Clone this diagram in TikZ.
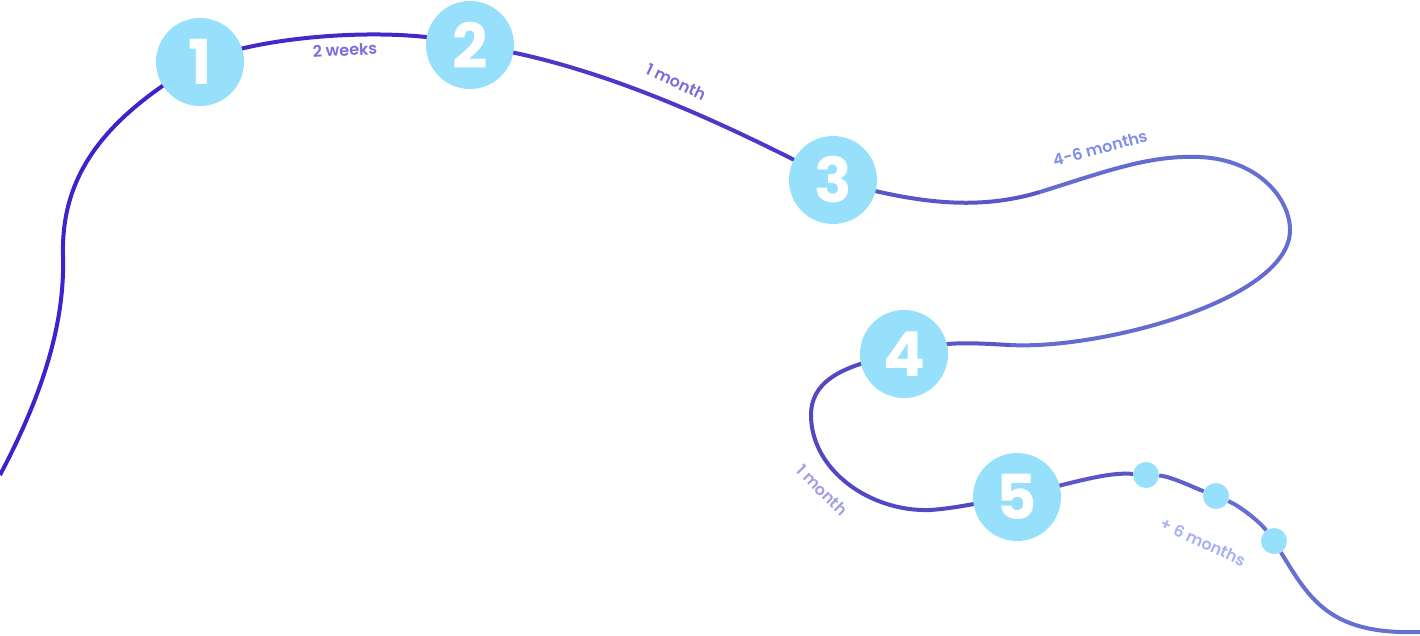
\documentclass[tikz,border=0pt]{standalone}
\usepackage{fontspec}
\setmainfont{Poppins}
\newfontfamily\labelfont{Poppins SemiBold}
\usepackage{xcolor}
\usetikzlibrary{positioning,calc}
\pgfdeclarelayer{bg}
\pgfsetlayers{bg,main}
\definecolor{stepblue}{HTML}{97E0FC}
\definecolor{roadA}{HTML}{3F22CC}
\definecolor{roadB}{HTML}{4628C9}
\definecolor{roadC}{HTML}{4D36C8}
\definecolor{roadD}{HTML}{5A55C9}
\definecolor{roadE}{HTML}{6670D0}
\definecolor{roadF}{HTML}{5347C2}
\definecolor{lblA}{HTML}{7B6CDB}
\definecolor{lblB}{HTML}{7F8EE8}
\definecolor{lblC}{HTML}{A39EE6}
\definecolor{lblD}{HTML}{A8B0F5}

\begin{document}
\begin{tikzpicture}[x = 1pt, y = -1pt,
  bigstop/.style = {circle, fill = stepblue, minimum size = 88pt, inner sep = 0pt,
    text = white, font = \fontsize{62}{62}\selectfont\bfseries},
  smallstop/.style = {circle, fill = stepblue, minimum size = 26pt, inner sep = 0pt},
  road/.style = {line width = 4pt},
  lbl/.style = {font = \labelfont\fontsize{16}{16}\selectfont}]
\useasboundingbox (0,0) rectangle (1420,635);

\node[bigstop] (s1) at (200,62) {1};
\node[bigstop] (s2) at (470,45) {2};
\node[bigstop] (s3) at (833,180) {3};
\node[bigstop] (s4) at (904,354) {4};
\node[bigstop] (s5) at (1017,497) {5};
\node[smallstop] (d1) at (1146,475) {};
\node[smallstop] (d2) at (1216,496) {};
\node[smallstop] (d3) at (1274,541) {};

\coordinate (start) at (0,475);
\coordinate (bend) at (63,255);
\coordinate (c1) at (1040,192);
\coordinate (c2) at (1200,157);
\coordinate (c3) at (1290,230);
\coordinate (c4) at (1010,345);
\coordinate (c5) at (811,415);
\coordinate (c6) at (930,510);
\coordinate (finish) at (1420,632);

\begin{pgfonlayer}{bg}
\draw[road, roadA] (start) .. controls (45,390) and (65,320) .. (bend)
  .. controls (61,170) and (110,115) .. (s1.center);
\draw[road, roadB] (s1.center) .. controls (260,35) and (400,25) .. (s2.center);
\draw[road, roadC] (s2.center) .. controls (580,60) and (700,110) .. (s3.center);
\draw[road, roadD] (s3.center) .. controls (920,205) and (980,210) .. (c1);
\draw[road, roadE!85!roadD] (c1) .. controls (1110,170) and (1150,155) .. (c2);
\draw[road, roadE] (c2) .. controls (1260,160) and (1290,200) .. (c3);
\draw[road, roadE!85!roadD] (c3) .. controls (1290,300) and (1100,350) .. (c4);
\draw[road, roadD] (c4) .. controls (970,343) and (940,340) .. (s4.center);
\draw[road, roadF] (s4.center) .. controls (835,365) and (811,385) .. (c5);
\draw[road, roadF] (c5) .. controls (811,470) and (870,512) .. (c6);
\draw[road, roadF] (c6) .. controls (960,508) and (990,500) .. (s5.center);
\draw[road, roadD] (s5.center) .. controls (1080,480) and (1110,472) .. (d1);
\draw[road, roadD!60!roadE] (d1) .. controls (1170,476) and (1195,488) .. (d2);
\draw[road, roadE] (d2) .. controls (1240,506) and (1260,522) .. (d3);
\draw[road, roadE] (d3) .. controls (1310,600) and (1330,635) .. (finish);
\end{pgfonlayer}

\node[lbl, text = lblA, rotate = 3] (t1) at (345,50) {2 weeks};
\node[lbl, text = lblA, rotate = -25] (t2) at (676,82) {1 month};
\node[lbl, text = lblB, rotate = 15] (t3) at (1100,148) {4-6 months};
\node[lbl, text = lblC, rotate = -45] (t4) at (822,490) {1 month};
\node[lbl, text = lblD, rotate = -25] (t5) at (1203,542) {+ 6 months};
\end{tikzpicture}
\end{document}
